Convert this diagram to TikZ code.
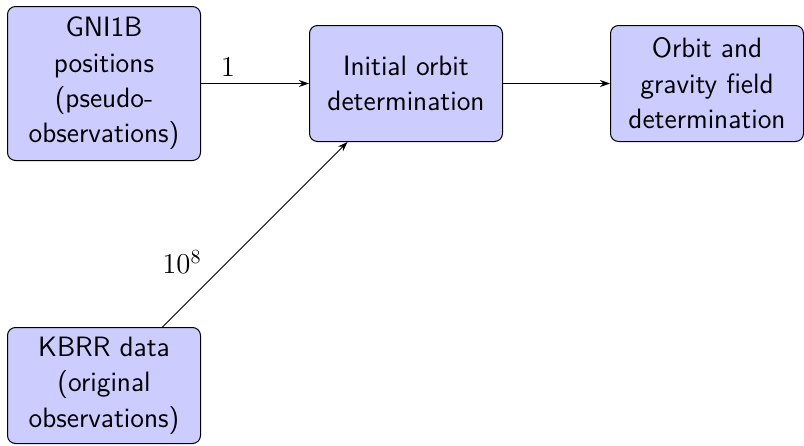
\documentclass[tikz,border=0pt]{standalone}
\usepackage{fontspec}
\usetikzlibrary{arrows.meta}
\begin{document}
\begin{tikzpicture}[x=0.5pt,y=-0.5pt,
  block/.style={rectangle, draw, line width=0.5pt, fill=blue!20, rounded corners=4pt,
    align=center, minimum width=96.5pt, minimum height=58pt, inner sep=2pt,
    font=\sffamily\fontsize{14}{17.7}\selectfont},
  conn/.style={-{Stealth[length=5pt,width=3.5pt]}, line width=0.5pt},
  lab/.style={font=\fontsize{14}{17.7}\selectfont}]
\useasboundingbox (0,0) rectangle (804,445);
\node[block, minimum height=77pt] (gni) at (104,83.5) {GNI1B\\positions\\(pseudo-\\observations)};
\node[block] (init) at (406,83.5) {Initial orbit\\determination};
\node[block] (orb) at (707,83.5) {Orbit and\\gravity field\\determination};
\node[block] (kbrr) at (104,385.5) {KBRR data\\(original\\observations)};
\draw[conn] (gni) -- node[lab, pos=0.25, above] {$1$} (init);
\draw[conn] (init) -- (orb);
\draw[conn] (kbrr) -- node[lab, pos=0.25, above left] {$10^8$} (init);
\end{tikzpicture}
\end{document}
